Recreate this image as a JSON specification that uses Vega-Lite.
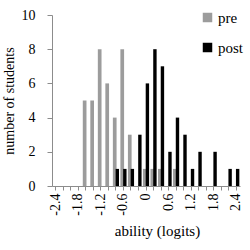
{
  "$schema": "https://vega.github.io/schema/vega-lite/v6.json",
  "width": 188,
  "height": 171,
  "autosize": "none",
  "padding": {"left": 52, "top": 15, "right": 10, "bottom": 64},
  "background": "white",
  "config": {
    "view": {"stroke": null},
    "font": "Liberation Serif, serif",
    "axis": {"grid": false, "domainColor": "#8c8c8c", "tickColor": "#8c8c8c", "labelColor": "black", "titleColor": "black", "labelFont": "Liberation Serif, serif", "titleFont": "Liberation Serif, serif", "titleFontWeight": "normal"},
    "legend": {"labelFont": "Liberation Serif, serif", "labelColor": "black"}
  },
  "data": {
    "values": [
      {"ability": "-1.6", "group": "pre", "n": 5},
      {"ability": "-1.4", "group": "pre", "n": 5},
      {"ability": "-1.2", "group": "pre", "n": 8},
      {"ability": "-1.0", "group": "pre", "n": 6},
      {"ability": "-0.8", "group": "pre", "n": 4},
      {"ability": "-0.6", "group": "pre", "n": 8},
      {"ability": "-0.4", "group": "pre", "n": 3},
      {"ability": "0", "group": "pre", "n": 1},
      {"ability": "0.2", "group": "pre", "n": 1},
      {"ability": "0.4", "group": "pre", "n": 1},
      {"ability": "0.8", "group": "pre", "n": 1},
      {"ability": "-0.8", "group": "post", "n": 1},
      {"ability": "-0.6", "group": "post", "n": 1},
      {"ability": "-0.4", "group": "post", "n": 1},
      {"ability": "-0.2", "group": "post", "n": 3},
      {"ability": "0", "group": "post", "n": 6},
      {"ability": "0.2", "group": "post", "n": 8},
      {"ability": "0.4", "group": "post", "n": 7},
      {"ability": "0.6", "group": "post", "n": 2},
      {"ability": "0.8", "group": "post", "n": 4},
      {"ability": "1.0", "group": "post", "n": 3},
      {"ability": "1.2", "group": "post", "n": 1},
      {"ability": "1.4", "group": "post", "n": 2},
      {"ability": "1.8", "group": "post", "n": 2},
      {"ability": "2.2", "group": "post", "n": 1},
      {"ability": "2.4", "group": "post", "n": 1}
    ]
  },
  "encoding": {
    "x": {
      "field": "ability",
      "type": "ordinal",
      "scale": {
        "domain": ["-2.4","-2.2","-2.0","-1.8","-1.6","-1.4","-1.2","-1.0","-0.8","-0.6","-0.4","-0.2","0","0.2","0.4","0.6","0.8","1.0","1.2","1.4","1.6","1.8","2.0","2.2","2.4"],
        "paddingInner": 0,
        "paddingOuter": 0
      },
      "axis": {
        "title": "ability (logits)",
        "titleFontSize": 15,
        "titleX": 105,
        "titlePadding": 8,
        "labelAngle": -90,
        "labelFontSize": 14,
        "labelAlign": "right",
        "labelBaseline": "middle",
        "labelPadding": 3,
        "tickSize": 4,
        "labelExpr": "indexof(['-2.4','-1.8','-1.2','-0.6','0','0.6','1.2','1.8','2.4'], datum.label) >= 0 ? datum.label : ''"
      }
    },
    "y": {
      "field": "n",
      "type": "quantitative",
      "scale": {"domain": [0, 10]},
      "axis": {
        "title": "number of students",
        "titleFontSize": 14,
        "titlePadding": 5,
        "values": [0, 2, 4, 6, 8, 10],
        "labelFontSize": 14,
        "labelPadding": 12,
        "tickSize": 5
      }
    },
    "color": {
      "field": "group",
      "type": "nominal",
      "scale": {"domain": ["pre", "post"], "range": ["#9c9c9c", "#000000"]},
      "legend": {
        "title": null,
        "orient": "none",
        "legendX": 148,
        "legendY": -5,
        "symbolType": "square",
        "symbolSize": 90,
        "symbolStrokeWidth": 0,
        "labelFontSize": 15,
        "labelOffset": 3,
        "rowPadding": 14
      }
    }
  },
  "layer": [
    {
      "transform": [{"filter": "datum.group === 'pre'"}],
      "mark": {"type": "bar", "width": 3.7, "xOffset": -1.2}
    },
    {
      "transform": [{"filter": "datum.group === 'post'"}],
      "mark": {"type": "bar", "width": 3.4, "xOffset": 1.4}
    }
  ]
}
